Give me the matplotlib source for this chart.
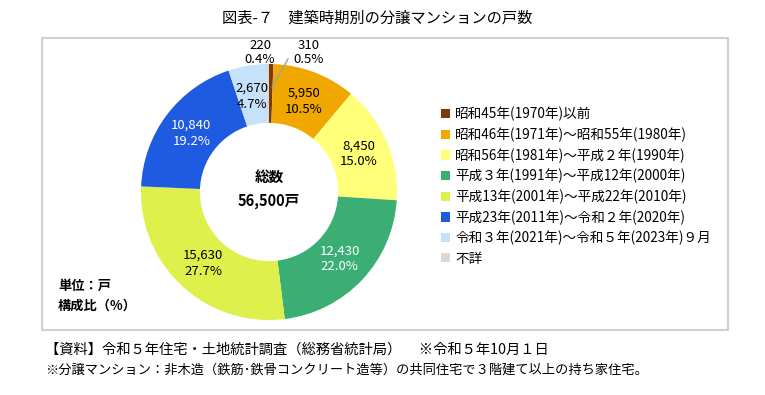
import numpy as np
import matplotlib.pyplot as plt
from matplotlib.patches import Patch, Rectangle

plt.rcParams['font.family'] = ['Noto Sans CJK JP', 'DejaVu Sans']

# データ（時計回り、上から）
categories = ['昭和45年(1970年)以前',
              '昭和46年(1971年)～昭和55年(1980年)',
              '昭和56年(1981年)～平成２年(1990年)',
              '平成３年(1991年)～平成12年(2000年)',
              '平成13年(2001年)～平成22年(2010年)',
              '平成23年(2011年)～令和２年(2020年)',
              '令和３年(2021年)～令和５年(2023年)９月',
              '不詳']
counts = [310, 5950, 8450, 12430, 15630, 10840, 2670, 220]
shares = [0.5, 10.5, 15.0, 22.0, 27.7, 19.2, 4.7, 0.4]
colors = ['#7B3A0A', '#F0A800', '#FFFF7A', '#3BAE74', '#DDF04C',
          '#1E5BE0', '#C6E2FA', '#D9D9D9']
label_colors = ['black', 'black', 'black', 'white', 'black', 'white', 'black', 'black']

W, H = 765, 395
fig = plt.figure(figsize=(W / 100, H / 100), dpi=100)

# 枠
fig.patches.append(Rectangle((42 / W, 1 - 330 / H), (728 - 42) / W, (330 - 38) / H,
                             transform=fig.transFigure, fill=False,
                             edgecolor='#D0D0D0', linewidth=1.5))

# 円グラフ
cx, cy, r = 269, 192, 128
ax = fig.add_axes([(cx - r) / W, 1 - (cy + r) / H, 2 * r / W, 2 * r / H])
wedges, _ = ax.pie(counts, colors=colors, startangle=90, counterclock=False,
                   radius=1.0, wedgeprops=dict(width=0.46, linewidth=0))
ax.set_xlim(-1, 1)
ax.set_ylim(-1, 1)
ax.set_aspect('equal')
ax.axis('off')

for i, w in enumerate(wedges):
    ang = np.deg2rad((w.theta1 + w.theta2) / 2)
    txt = f'{counts[i]:,}\n{shares[i]:.1f}%'
    if shares[i] < 1:
        continue
    rr = 0.76
    ax.text(rr * np.cos(ang), rr * np.sin(ang), txt, ha='center', va='center',
            fontsize=9.5, color=label_colors[i], linespacing=1.3)

# 小さい区分のラベル
ax.text(-0.07, 1.09, f'{counts[7]}\n{shares[7]:.1f}%', ha='center', va='center',
        fontsize=9.5, linespacing=1.15)
ax.text(0.31, 1.09, f'{counts[0]}\n{shares[0]:.1f}%', ha='center', va='center',
        fontsize=9.5, linespacing=1.15)
ang0 = np.deg2rad((wedges[0].theta1 + wedges[0].theta2) / 2)
ax.annotate('', xy=(0.8 * np.cos(ang0), 0.8 * np.sin(ang0)), xytext=(0.16, 1.06),
            arrowprops=dict(arrowstyle='-', color='#A0A0A0', lw=1))

ax.text(0, 0.12, '総数', ha='center', va='center', fontsize=10.5, fontweight='bold')
ax.text(0, -0.07, f'{sum(counts):,}戸', ha='center', va='center', fontsize=10.5,
        fontweight='bold')

# 凡例
handles = [Patch(facecolor=c, edgecolor='none') for c in colors]
fig.legend(handles, categories, loc='upper left', bbox_to_anchor=(434 / W, 1 - 100 / H),
           frameon=False, fontsize=9.8, handlelength=0.65, handleheight=0.65,
           handletextpad=0.4, labelspacing=0.45, borderpad=0)

fig.text(58 / W, 1 - 286 / H, '単位：戸', fontsize=9.5, fontweight='bold', va='center')
fig.text(58 / W, 1 - 306 / H, '構成比（%）', fontsize=9.5, fontweight='bold', va='center')

fig.text(377 / W, 1 - 18 / H, '図表-７　建築時期別の分譲マンションの戸数', ha='center',
         va='center', fontsize=11)
fig.text(45 / W, 1 - 350 / H,
         '【資料】令和５年住宅・土地統計調査（総務省統計局）　 ※令和５年10月１日',
         fontsize=10.3, va='center')
fig.text(45 / W, 1 - 370 / H,
         '※分譲マンション：非木造（鉄筋･鉄骨コンクリート造等）の共同住宅で３階建て以上の持ち家住宅。',
         fontsize=9.5, va='center')

fig.savefig('out.png', dpi=100)
